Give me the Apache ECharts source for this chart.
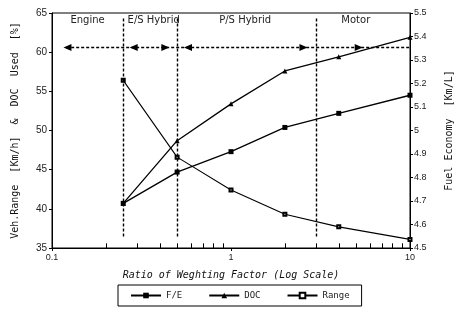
<!DOCTYPE html>
<html>
<head>
<meta charset="utf-8">
<script src="https://cdn.jsdelivr.net/npm/echarts@6/dist/echarts.min.js"></script>
<style>
  html, body { margin: 0; padding: 0; background: #fff; }
  #main { width: 462px; height: 317px; }
</style>
</head>
<body>
<div id="main"></div>
<script>
// weighting factor ratio (log x)
var ratio = [0.25, 0.5, 1, 2, 4, 10];
// fuel economy, right axis [Km/L]
var feValues = [4.69, 4.823, 4.91, 5.013, 5.073, 5.15];
// DOC used [%]
var docValues = [40.7, 48.7, 53.4, 57.6, 59.4, 61.9];
// vehicle range
var rangeValues = [56.4, 46.6, 42.4, 39.3, 37.7, 36.1];

// mode boundaries and labels
var modeBounds = [0.25, 0.5, 3];
var modeNames = ["Engine", "E/S Hybrid", "P/S Hybrid", "Motor"];
var modeLabelX = [0.158, 0.37, 1.2, 4.98];
var arrowX = [0.122, 0.286, 0.43, 0.575, 2.54, 5.17];
var arrowDir = ["left", "left", "right", "left", "right", "right"];

// minor ticks on the log axis
var minorTicks = [0.2, 0.3, 0.4, 0.5, 0.6, 0.7, 0.8, 0.9, 2, 3, 4, 5, 6, 7, 8, 9];

var leftTicks = { min: 35, max: 65, interval: 5 };
var rightTicks = { min: 4.5, max: 5.5, interval: 0.1 };

function pairs(xs, ys) {
  var out = [];
  for (var i = 0; i < xs.length; i++) out.push([xs[i], ys[i]]);
  return out;
}

var myChart = echarts.init(document.getElementById("main"));

var vLines = modeBounds.map(function (b) {
  return [{ coord: [b, 64.3] }, { coord: [b, 36.3] }];
});
vLines.push([{ coord: [0.12, 60.6] }, { coord: [10, 60.6] }]);

var tickLines = minorTicks.map(function (t) {
  return [{ coord: [t, 35] }, { coord: [t, 35.6] }];
});

var arrows = arrowX.map(function (x, i) {
  return {
    coord: [x, 60.6],
    symbol: "triangle",
    symbolSize: [7, 8],
    symbolRotate: arrowDir[i] === "left" ? 90 : -90,
    itemStyle: { color: "#000" },
    label: { show: false }
  };
});
var labels = modeNames.map(function (n, i) {
  return {
    coord: [modeLabelX[i], 64.0],
    symbol: "rect",
    symbolSize: 1,
    itemStyle: { color: "rgba(0,0,0,0)" },
    label: {
      show: true,
      formatter: n,
      position: "inside",
      color: "#222",
      fontSize: 10,
      fontFamily: "DejaVu Sans"
    }
  };
});

var option = {
  animation: false,
  backgroundColor: "#fff",
  grid: {
    left: 52, right: 47, top: 13, bottom: 69,
    show: true, borderColor: "#000", borderWidth: 1
  },
  legend: {
    left: 118, top: 285, width: 240,
    itemGap: 26, itemWidth: 30, itemHeight: 7,
    padding: [6, 12],
    borderColor: "#000", borderWidth: 1,
    textStyle: { fontSize: 9, color: "#222", fontFamily: "DejaVu Sans Mono" },
    data: ["F/E", "DOC", "Range"]
  },
  xAxis: {
    type: "log", logBase: 10, min: 0.1, max: 10,
    name: "Ratio of Weghting Factor (Log Scale)",
    nameLocation: "middle", nameGap: 22,
    nameTextStyle: { fontFamily: "DejaVu Sans Mono", fontStyle: "italic", fontSize: 10, color: "#111" },
    axisLine: { lineStyle: { color: "#000" } },
    axisTick: { inside: false, length: 3, lineStyle: { color: "#000" } },
    axisLabel: {
      fontSize: 9, color: "#222", margin: 5,
      formatter: function (v) { return v === 0.1 ? "0.1" : String(v); }
    },
    splitLine: { show: false }
  },
  yAxis: [
    {
      type: "value", min: leftTicks.min, max: leftTicks.max, interval: leftTicks.interval,
      name: "Veh.Range  [Km/h]  &  DOC  Used  [%]",
      nameLocation: "middle", nameGap: 32, nameRotate: 90,
      nameTextStyle: { fontFamily: "DejaVu Sans Mono", fontSize: 10, color: "#111" },
      axisLine: { show: true, lineStyle: { color: "#000" } },
      axisTick: { show: true, length: 3, lineStyle: { color: "#000" } },
      axisLabel: { fontSize: 10, color: "#222", margin: 5 },
      splitLine: { show: false }
    },
    {
      type: "value", min: rightTicks.min, max: rightTicks.max, interval: rightTicks.interval,
      name: "Fuel Economy  [Km/L]",
      nameLocation: "middle", nameGap: 34, nameRotate: 90,
      nameTextStyle: { fontFamily: "DejaVu Sans Mono", fontSize: 10, color: "#111" },
      axisLine: { show: true, lineStyle: { color: "#000" } },
      axisTick: { show: true, length: 3, lineStyle: { color: "#000" } },
      axisLabel: {
        fontSize: 9, color: "#222", margin: 4,
        formatter: function (v) { return String(Math.round(v * 10) / 10); }
      },
      splitLine: { show: false }
    }
  ],
  series: [
    {
      name: "F/E", type: "line", yAxisIndex: 1,
      data: pairs(ratio, feValues),
      symbol: "rect", symbolSize: 5,
      lineStyle: { color: "#000", width: 1.3 },
      itemStyle: { color: "#000" }
    },
    {
      name: "DOC", type: "line", yAxisIndex: 0,
      data: pairs(ratio, docValues),
      symbol: "triangle", symbolSize: 5,
      lineStyle: { color: "#000", width: 1.3 },
      itemStyle: { color: "#000" }
    },
    {
      name: "Range", type: "line", yAxisIndex: 0,
      data: pairs(ratio, rangeValues),
      symbol: "emptyRect", symbolSize: 3,
      lineStyle: { color: "#000", width: 1.1 },
      itemStyle: { color: "#000" }
    },
    {
      name: "modes", type: "line", yAxisIndex: 0,
      data: [],
      markLine: {
        silent: true, symbol: "none",
        lineStyle: { color: "#000", type: [3, 2], width: 1.4 },
        label: { show: false },
        data: vLines
      },
      markPoint: {
        silent: true,
        data: arrows.concat(labels)
      }
    },
    {
      name: "minor", type: "line", yAxisIndex: 0,
      data: [],
      markLine: {
        silent: true, symbol: "none",
        lineStyle: { color: "#000", type: "solid", width: 1 },
        label: { show: false },
        data: tickLines
      }
    }
  ]
};

option && myChart.setOption(option);
</script>
</body>
</html>
